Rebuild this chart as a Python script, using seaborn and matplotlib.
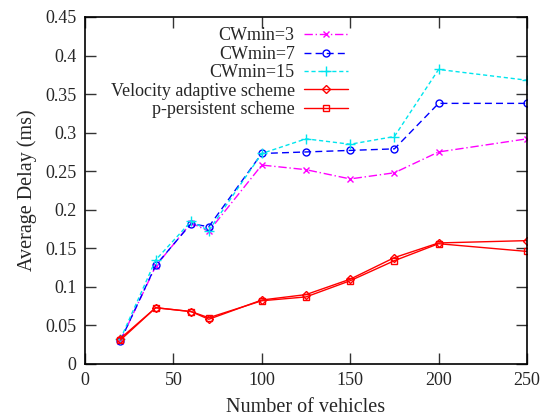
import matplotlib
matplotlib.use("Agg")
import matplotlib.pyplot as plt
import seaborn as sns
import pandas as pd

vehicles = [20, 40, 60, 70, 100, 125, 150, 175, 200, 250]
cw3 = [0.030, 0.127, 0.183, 0.172, 0.258, 0.252, 0.240, 0.248, 0.275, 0.292]
cw7 = [0.030, 0.128, 0.182, 0.178, 0.273, 0.275, 0.277, 0.279, 0.338, 0.338]
cw15 = [0.032, 0.135, 0.185, 0.173, 0.273, 0.292, 0.285, 0.295, 0.382, 0.368]
velocity = [0.033, 0.073, 0.068, 0.058, 0.083, 0.090, 0.110, 0.138, 0.157, 0.160]
ppersist = [0.031, 0.073, 0.068, 0.060, 0.082, 0.087, 0.108, 0.134, 0.156, 0.146]

labels = ["CWmin=3", "CWmin=7", "CWmin=15", "Velocity adaptive scheme", "p-persistent scheme"]
series = [cw3, cw7, cw15, velocity, ppersist]
xticks = [0, 50, 100, 150, 200, 250]
yticks = [0, 0.05, 0.1, 0.15, 0.2, 0.25, 0.3, 0.35, 0.4, 0.45]
ytick_labels = ["0", "0.05", "0.1", "0.15", "0.2", "0.25", "0.3", "0.35", "0.4", "0.45"]

sns.set_style("ticks")
plt.rcParams['font.family'] = ['Liberation Serif', 'DejaVu Serif']

styles = [
    dict(color="#ff00ff", linestyle=(0, (6, 2, 1, 2)), marker="x", markersize=4.5, markerfacecolor="#ff00ff"),
    dict(color="#0000ff", linestyle=(0, (5, 3)), marker="o", markersize=5, markerfacecolor="none"),
    dict(color="#00e5ee", linestyle=(0, (3, 2)), marker="+", markersize=6.5, markerfacecolor="#00e5ee"),
    dict(color="#ff0000", linestyle="-", marker="D", markersize=4, markerfacecolor="none"),
    dict(color="#ff0000", linestyle="-", marker="s", markersize=4, markerfacecolor="none"),
]

fig = plt.figure(figsize=(5.53, 4.17), dpi=100)
ax = fig.add_axes([85/553, 53/417, 442/553, 347/417])

handles = []
for lab, vals, st in zip(labels, series, styles):
    df = pd.DataFrame({"x": vehicles, "y": vals})
    n0 = len(ax.lines)
    sns.lineplot(data=df, x="x", y="y", ax=ax, color=st["color"], linewidth=1.0, legend=False)
    line = ax.lines[n0]
    line.set_linestyle(st["linestyle"])
    line.set_marker(st["marker"])
    line.set_markersize(st["markersize"])
    line.set_markerfacecolor(st["markerfacecolor"])
    line.set_markeredgecolor(st["color"])
    line.set_markeredgewidth(1.0)
    line.set_label(lab)
    handles.append(line)

ax.set_xlim(0, 250)
ax.set_ylim(0, 0.45)
ax.set_xticks(xticks)
ax.set_xticklabels([str(t) for t in xticks])
ax.set_yticks(yticks)
ax.set_yticklabels(ytick_labels)
ax.tick_params(direction="in", length=8, width=1, top=True, right=True,
               labelsize=13, color="#333333", pad=6)
for s in ax.spines.values():
    s.set_linewidth(1.2)
    s.set_color("black")
ax.set_xlabel("Number of vehicles", fontsize=14.5, labelpad=6)
ax.set_ylabel("Average Delay (ms)", fontsize=14.5, labelpad=6)

leg = ax.legend(handles=handles, labels=labels, loc="upper right",
                bbox_to_anchor=(0.595, 0.97), frameon=False,
                markerfirst=False, fontsize=13, handlelength=2.45, handletextpad=0.5,
                labelspacing=0.08, borderaxespad=0, borderpad=0)

fig.savefig("out.png", dpi=100)
